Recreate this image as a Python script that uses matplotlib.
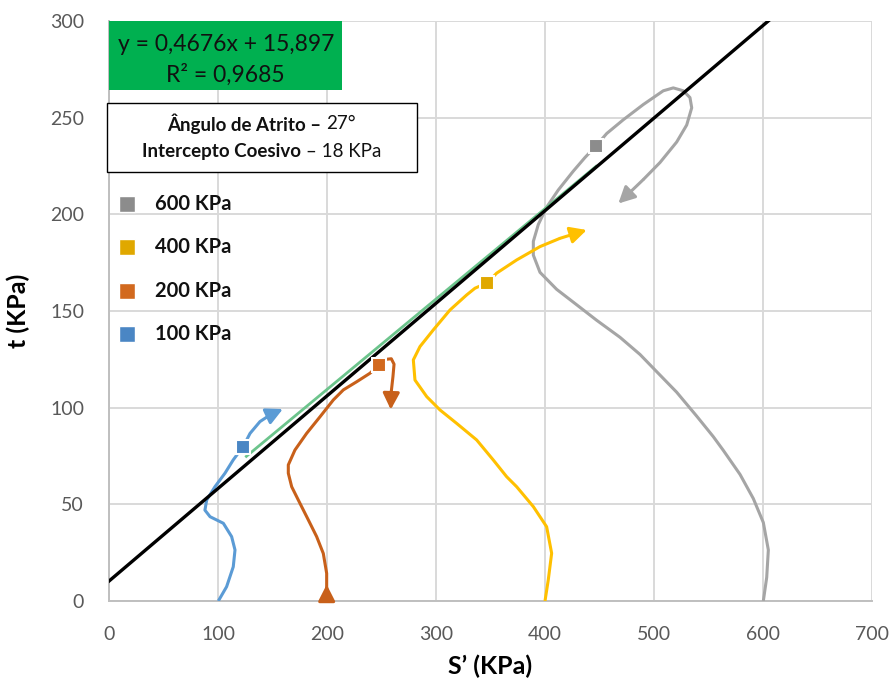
import matplotlib
matplotlib.use("Agg")
import matplotlib.pyplot as plt
from matplotlib.patches import Rectangle

plt.rcParams['font.family'] = ['Lato', 'DejaVu Sans']

# Stress paths (s', t) in KPa for each confining pressure
blue_s = [100.3, 107.9, 114.0, 115.6, 112.5, 104.9, 92.7, 88.0, 89.6, 97.2, 106.4, 114.0, 119.5, 123.0,
          129.4, 138.5, 147.7, 159.5]
blue_t = [0.0, 7.4, 17.7, 26.4, 33.3, 40.2, 43.6, 47.0, 52.2, 59.1, 66.1, 73.0, 77.2, 79.7,
          86.7, 92.8, 96.2, 99.3]

orange_s = [199.7, 199.7, 199.7, 196.6, 190.5, 182.9, 173.7, 167.6, 164.5, 164.5, 170.6, 181.3, 193.6,
            205.8, 215.0, 227.2, 239.4, 247.7, 254.0, 259.0, 261.5, 260.5, 259.0, 258.5]
orange_t = [0.0, 7.4, 14.3, 24.6, 33.3, 41.9, 52.2, 59.1, 66.1, 70.4, 78.1, 86.7, 95.3,
            104.0, 109.2, 113.4, 117.8, 122.0, 125.0, 125.3, 122.5, 116.0, 108.5, 99.0]

yellow_s = [400.0, 403.0, 406.1, 401.5, 389.3, 374.0, 364.8, 352.6, 337.3, 318.9, 303.7, 291.5, 280.7,
            279.2, 285.3, 297.5, 312.8, 328.1, 335.8, 346.8, 355.7, 374.0, 395.4, 413.8, 438.3]
yellow_t = [0.0, 10.9, 24.7, 38.4, 48.8, 59.1, 64.3, 72.9, 83.3, 91.9, 98.8, 105.7, 114.3,
            124.7, 131.6, 140.2, 150.5, 158.3, 161.8, 164.5, 169.6, 176.4, 183.3, 187.6, 191.9]

gray_s = [600.3, 603.4, 604.9, 600.3, 591.1, 578.9, 563.6, 554.4, 539.2, 520.8, 499.4, 487.2, 468.8,
          447.4, 429.1, 410.7, 395.4, 389.3, 389.3, 393.9, 401.5, 412.2, 425.9, 436.7, 446.8, 456.6,
          471.8, 490.2, 508.5, 517.7, 526.9, 533.0, 534.6, 530.0, 520.8, 505.5, 490.2, 467.3]
gray_t = [0.0, 12.2, 26.4, 40.6, 53.0, 65.5, 77.9, 85.0, 95.6, 108.0, 120.4, 127.5, 136.4,
          145.2, 153.2, 161.2, 170.0, 178.9, 186.0, 194.8, 203.7, 212.6, 222.3, 229.4, 235.4, 241.8,
          248.9, 256.8, 263.9, 265.4, 263.9, 260.4, 255.1, 246.2, 237.4, 226.8, 218.0, 205.6]

# Failure points on each path
labels = ["600 KPa", "400 KPa", "200 KPa", "100 KPa"]
fail_s = [446.8, 346.8, 247.7, 123.0]
fail_t = [235.4, 164.5, 122.0, 79.7]

# Linear fit of the failure points
slope, intercept, r2 = 0.4676, 15.897, 0.9685
fit_range = [126.0, 446.8]

# Failure envelope drawn through the plot
envelope_s = [0.0, 609.0]
envelope_t = [10.3, 302.0]

line_colors = ["#A5A5A5", "#FFC000", "#C8601A", "#5B9BD5"]
marker_colors = ["#8C8C8C", "#E0A800", "#D2691E", "#4A86C4"]

fig = plt.figure(figsize=(8.92, 6.79), dpi=100)
ax = fig.add_axes([109 / 892, 78 / 679, 763 / 892, 580 / 679])

ax.set_xlim(0, 700)
ax.set_ylim(0, 300)
ax.set_xticks(range(0, 701, 100))
ax.set_yticks(range(0, 301, 50))
ax.grid(True, color="#D9D9D9", lw=1.4)
ax.set_axisbelow(True)
for side in ["top", "right"]:
    ax.spines[side].set_visible(False)
for side in ["left", "bottom"]:
    ax.spines[side].set_color("#BFBFBF")
    ax.spines[side].set_linewidth(1.4)
ax.tick_params(length=0, labelsize=14, labelcolor="#595959")
ax.tick_params(axis="y", pad=18)
ax.tick_params(axis="x", pad=18)
ax.set_xlabel("S’ (KPa)", fontsize=18, fontweight="bold", labelpad=8)
ax.set_ylabel("t (KPa)", fontsize=18, fontweight="bold", labelpad=14)

paths = [(gray_s, gray_t), (yellow_s, yellow_t), (orange_s, orange_t), (blue_s, blue_t)]
arrow_style = "-|>,head_length=0.55,head_width=0.28"
for (xs, ys), lc in zip(paths, line_colors):
    ax.plot(xs[:-1], ys[:-1], color=lc, lw=2.2, solid_joinstyle="round", solid_capstyle="butt", zorder=3)
    ax.annotate("", xy=(xs[-1], ys[-1]), xytext=(xs[-2], ys[-2]),
                arrowprops=dict(arrowstyle=arrow_style, color=lc, lw=2.2, mutation_scale=18,
                                shrinkA=0, shrinkB=0), zorder=3)

# loading direction at the start of the 200 KPa path
ax.annotate("", xy=(orange_s[0], 8.5), xytext=(orange_s[0], 0.0),
            arrowprops=dict(arrowstyle=arrow_style, color=line_colors[2], lw=2.2, mutation_scale=18,
                            shrinkA=0, shrinkB=0), zorder=3)

# trendline and envelope
ax.plot(fit_range, [slope * v + intercept for v in fit_range], color="#6CC48C", lw=2.0, zorder=4)
ax.plot(envelope_s, envelope_t, color="black", lw=2.4, zorder=4)

# failure points and their key
key_y = [0.684, 0.610, 0.534, 0.460]
for s, t, mc, lab, ky in zip(fail_s, fail_t, marker_colors, labels, key_y):
    ax.plot([s], [t], marker="s", ms=10, color=mc, mec="white", mew=1.5, ls="none", zorder=6)
    ax.plot([0.0236], [ky], marker="s", ms=11, color=mc, mec="white", mew=1.0, ls="none",
            transform=ax.transAxes, clip_on=False, zorder=6)
    ax.text(0.060, ky, lab, transform=ax.transAxes, ha="left", va="center", fontsize=14.5,
            fontweight="bold", color="#111111", zorder=6)

# equation box
ax.add_patch(Rectangle((0.0, 0.881), 0.305, 0.119, transform=ax.transAxes, facecolor="#00B050",
                       edgecolor="none", zorder=7, clip_on=False))
ax.text(0.153, 0.960, f"y = {str(slope).replace('.', ',')}x + {str(intercept).replace('.', ',')}",
        transform=ax.transAxes, ha="center", va="center", fontsize=16.5, color="#111111", zorder=8)
ax.text(0.153, 0.908, f"R² = {str(r2).replace('.', ',')}", transform=ax.transAxes,
        ha="center", va="center", fontsize=16.5, color="#111111", zorder=8)

# strength parameter box
ax.add_patch(Rectangle((-0.003, 0.740), 0.407, 0.119, transform=ax.transAxes, facecolor="white",
                       edgecolor="black", lw=1.0, zorder=7, clip_on=False))

renderer = fig.canvas.get_renderer()
ax_w = ax.get_window_extent(renderer).width


def mixed_line(xc, y, parts, size):
    objs, widths = [], []
    gap = 4.5
    for s, w in parts:
        t = ax.text(0, y, s, transform=ax.transAxes, ha="left", va="center", fontsize=size,
                    fontweight=w, color="#111111", zorder=8)
        objs.append(t)
        widths.append(t.get_window_extent(renderer).width)
    total = sum(widths) + gap * (len(parts) - 1)
    x = xc - total / 2 / ax_w
    for t, w in zip(objs, widths):
        t.set_x(x)
        x += (w + gap) / ax_w


mixed_line(0.200, 0.823, [("Ângulo de Atrito –", "bold"), ("27°", "normal")], 13.5)
mixed_line(0.200, 0.775, [("Intercepto Coesivo", "bold"), ("– 18 KPa", "normal")], 13.5)

fig.savefig("out.png", dpi=100)
